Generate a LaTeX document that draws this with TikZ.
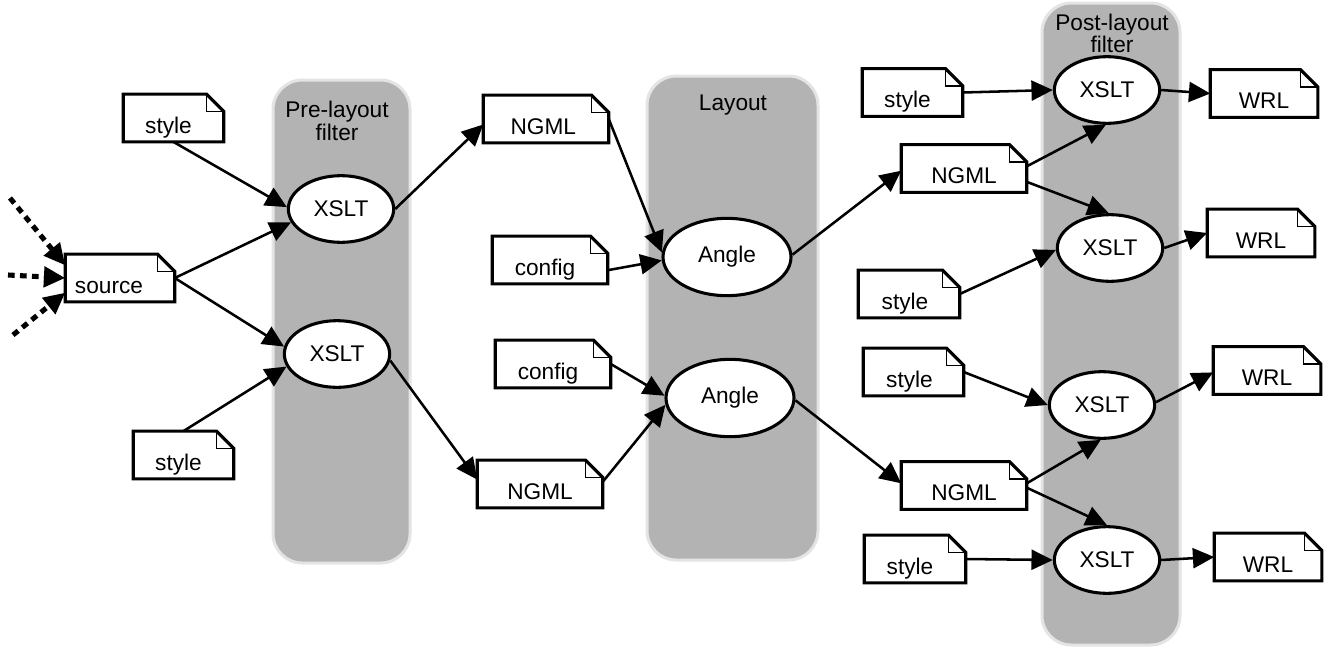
\documentclass[tikz,border=0pt]{standalone}
\usepackage{fontspec}
\setmainfont{Liberation Sans}
\usetikzlibrary{arrows.meta,shapes.geometric,calc}
\definecolor{grpfill}{RGB}{179,179,179}
\definecolor{grpline}{RGB}{228,228,228}
\newcommand\docnode[5]{%
  \node[doc, minimum width=#4*0.75pt] (#1) at (#2,#3) {#5};
  \draw[docline] (#1.north west) -- ([xshift=-13pt]#1.north east) -- ([yshift=-13pt]#1.north east) -- (#1.south east) -- (#1.south west) -- cycle;
  \draw[foldline] ([xshift=-13pt]#1.north east) |- ([yshift=-13pt]#1.north east);
}
\tikzset{
 grp/.style={fill=grpfill, draw=grpline, line width=2.25pt, rounded corners=22pt},
 doc/.style={inner sep=0pt, minimum height=35.5pt, text height=22.5pt, text depth=0pt},
 docline/.style={draw=black, line width=2.3pt, line join=miter},
 foldline/.style={draw=black, line width=1pt},
 proc/.style={ellipse, draw=black, fill=white, line width=2.3pt, inner sep=0pt},
 xslt/.style={proc, minimum width=79pt, minimum height=50pt},
 anglenode/.style={proc, minimum width=96pt, minimum height=58pt},
 link/.style={draw=black, line width=1.9pt, -{Triangle[length=16pt,width=15pt]}},
 feed/.style={link, line width=3.8pt, dash pattern=on 5pt off 4pt},
 lab/.style={anchor=base, inner sep=0pt},
}
\begin{document}
\begin{tikzpicture}[x=0.75pt,y=-0.75pt, font=\fontsize{17pt}{20pt}\selectfont]
\useasboundingbox (0,0) rectangle (1334,650);
\fill[white] (0,0) rectangle (1334,650);

% groups
\path[grp] (273,80) rectangle (410,563);
\path[grp] (647,76) rectangle (818,560);
\path[grp] (1042,3) rectangle (1180,645);
\node[lab] (prelab1) at (337,117) {Pre-layout};
\node[lab] (prelab2) at (337,140) {filter};
\node[lab] (laylab) at (733,110) {Layout};
\node[lab] (postlab1) at (1112,30) {Post-layout};
\node[lab] (postlab2) at (1112,52) {filter};

% documents
\docnode{s1}{173.5}{118}{100}{style\hspace*{7.5pt}}
\docnode{src}{120}{278}{109}{source\hspace*{16.5pt}}
\docnode{s2}{183.5}{455}{100}{style\hspace*{7.5pt}}
\docnode{n1}{546}{119}{125}{NGML\hspace*{4pt}}
\docnode{c1}{550}{260}{115}{config\hspace*{7.5pt}}
\docnode{c2}{553}{364}{115}{config\hspace*{7.5pt}}
\docnode{n2}{540}{484}{125}{NGML}
\docnode{s3}{912.5}{92.5}{100}{style\hspace*{7.5pt}}
\docnode{w1}{1264}{93.5}{107}{WRL}
\docnode{n3}{964}{168.5}{125}{NGML}
\docnode{w2}{1261}{233}{107}{WRL}
\docnode{s4}{909}{294}{101}{style\hspace*{6pt}}
\docnode{s5}{913.5}{372}{100}{style\hspace*{6pt}}
\docnode{w3}{1267}{370.5}{107}{WRL}
\docnode{n4}{964}{485.5}{125}{NGML}
\docnode{w4}{1268}{557}{107}{WRL}
\docnode{s6}{915}{559}{101}{style\hspace*{7.5pt}}

% processes
\node[xslt] (x1) at (341,209) {XSLT};
\node[xslt] (x2) at (337,354) {XSLT};
\node[anglenode] (a1) at (727,257) {Angle};
\node[anglenode] (a2) at (730,398) {Angle};
\node[xslt] (xa) at (1107,90) {XSLT};
\node[xslt] (xb) at (1110,248) {XSLT};
\node[xslt] (xc) at (1102,405) {XSLT};
\node[xslt] (xd) at (1107,560) {XSLT};

% incoming feeds
\coordinate (f1) at (10,198);
\coordinate (f2) at (8,275);
\coordinate (f3) at (13,335);
\draw[feed] (f1) -- (src.167);
\draw[feed] (f2) -- (src.180);
\draw[feed] (f3) -- (src.195);

% edges
\draw[link] (s1.south) -- (x1.178);
\draw[link] (src.east) -- (x1.195);
\draw[link] (src.east) -- (x2.172);
\draw[link] (s2.north) -- (x2.194);
\draw[link] (x1.east) -- (n1.185);
\draw[link] (x2.-7) -- (n2.176);
\draw[link] (n1.east) -- (a1.176);
\draw[link] (c1.-10) -- (a1.183);
\draw[link] (c2.east) -- (a2.178);
\draw[link] (n2.2) -- (a2.186);
\draw[link] (a1.2) -- (n3.182);
\draw[link] (a2.-2) -- (n4.178);
\draw[link] (s3.east) -- (xa.180);
\draw[link] (xa.east) -- (w1.west);
\draw[link] (n3.2) -- (xa.268);
\draw[link] (n3.-12) -- (xb.92);
\draw[link] (s4.east) -- (xb.182);
\draw[link] (xb.east) -- (w2.west);
\draw[link] (s5.east) -- (xc.west);
\draw[link] (xc.3) -- (w3.182);
\draw[link] (n4.2) -- (xc.268);
\draw[link] (n4.-2) -- (xd.north);
\draw[link] (s6.east) -- (xd.west);
\draw[link] (xd.east) -- (w4.west);
\end{tikzpicture}
\end{document}
